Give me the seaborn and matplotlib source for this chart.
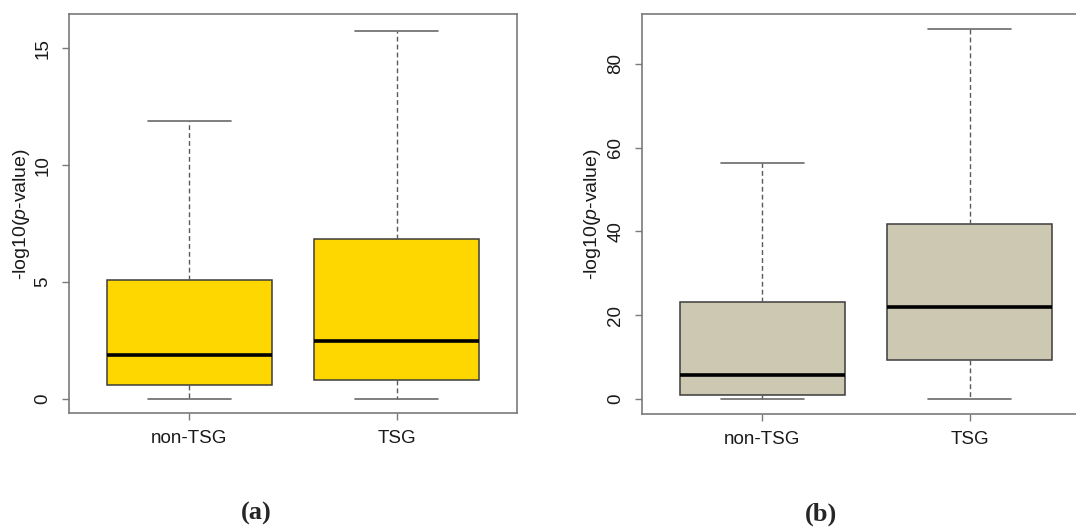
import numpy as np
import pandas as pd
import matplotlib
matplotlib.use("Agg")
import matplotlib.pyplot as plt
import seaborn as sns

# Five-number summaries of -log10(p-value) per gene group
groups = ["non-TSG", "TSG"]

a_low = [0.0, 0.0]
a_q1 = [0.59, 0.82]
a_median = [1.88, 2.49]
a_q3 = [5.11, 6.86]
a_high = [11.91, 15.76]

b_low = [0.0, 0.0]
b_q1 = [1.05, 9.3]
b_median = [5.7, 21.95]
b_q3 = [23.2, 41.8]
b_high = [56.3, 88.3]

a_ticks = [0, 5, 10, 15]
b_ticks = [0, 20, 40, 60, 80]

ylabel = "-log10($p$-value)"
panel_labels = ["(a)", "(b)"]


def summary_frame(low, q1, med, q3, high):
    rows = []
    for g, vals in zip(groups, zip(low, q1, med, q3, high)):
        for v in vals:
            rows.append({"group": g, "value": v})
    return pd.DataFrame(rows)


sns.set_style("white")
plt.rcParams["font.family"] = ["Liberation Sans", "DejaVu Sans"]
plt.rcParams["mathtext.fontset"] = "custom"
plt.rcParams["mathtext.rm"] = "Liberation Sans"
plt.rcParams["mathtext.it"] = "Liberation Sans:italic"

fig = plt.figure(figsize=(10.76, 5.29), dpi=100)
W, H = 1076, 529

frame_col = "#7a7a7a"
edge_col = "#3c3c3c"
whisk_col = "#5a5a5a"

panels = [
    dict(df=summary_frame(a_low, a_q1, a_median, a_q3, a_high), color="#FFD700",
         ticks=a_ticks, ylim=(-0.61, 16.47), left=69.3, top=14, bottom=413.3,
         ylab_x=22, label_pos=(256.7, 513)),
    dict(df=summary_frame(b_low, b_q1, b_median, b_q3, b_high), color="#CDC8B1",
         ticks=b_ticks, ylim=(-3.6, 91.9), left=642.3, top=14, bottom=414,
         ylab_x=593, label_pos=(821, 514)),
]

axw = 447.4
for p, plabel in zip(panels, panel_labels):
    ax = fig.add_axes([p["left"] / W, 1 - p["bottom"] / H, axw / W,
                       (p["bottom"] - p["top"]) / H])
    sns.boxplot(
        data=p["df"], x="group", y="value", order=groups, ax=ax,
        color=p["color"], saturation=1, width=0.8, whis=(0, 100),
        showfliers=False, linecolor=edge_col, linewidth=1.1,
        medianprops=dict(color="black", linewidth=2.6),
        whiskerprops=dict(color=whisk_col, linewidth=1.0, linestyle=(0, (3.5, 2.2))),
        capprops=dict(color="#6a6a6a", linewidth=1.2),
    )
    ax.set_xlim(-0.58, 1.58)
    ax.set_ylim(*p["ylim"])
    ax.set_yticks(p["ticks"])
    ax.set_yticklabels([str(t) for t in p["ticks"]])
    ax.set_xlabel("")
    ax.set_ylabel(ylabel, fontsize=14, color="#1a1a1a")
    ax.yaxis.label.set_va("center")
    ax.yaxis.set_label_coords((p["ylab_x"] - p["left"]) / axw, 0.5)
    for s in ax.spines.values():
        s.set_visible(True)
        s.set_color(frame_col)
        s.set_linewidth(1.2)
    ax.tick_params(axis="both", which="major", direction="out", length=5,
                   width=1.0, color=frame_col, labelsize=13.5, labelcolor="#1a1a1a",
                   bottom=True, left=True)
    ax.tick_params(axis="y", pad=8)
    ax.tick_params(axis="x", pad=7)
    for lab in ax.get_yticklabels():
        lab.set_rotation(90)
        lab.set_va("center")
    fig.text(p["label_pos"][0] / W, 1 - p["label_pos"][1] / H, plabel,
             ha="center", va="center", fontsize=19, fontweight="bold",
             family=["Liberation Serif", "DejaVu Serif"])

fig.savefig("out.png", dpi=100, facecolor="white")
